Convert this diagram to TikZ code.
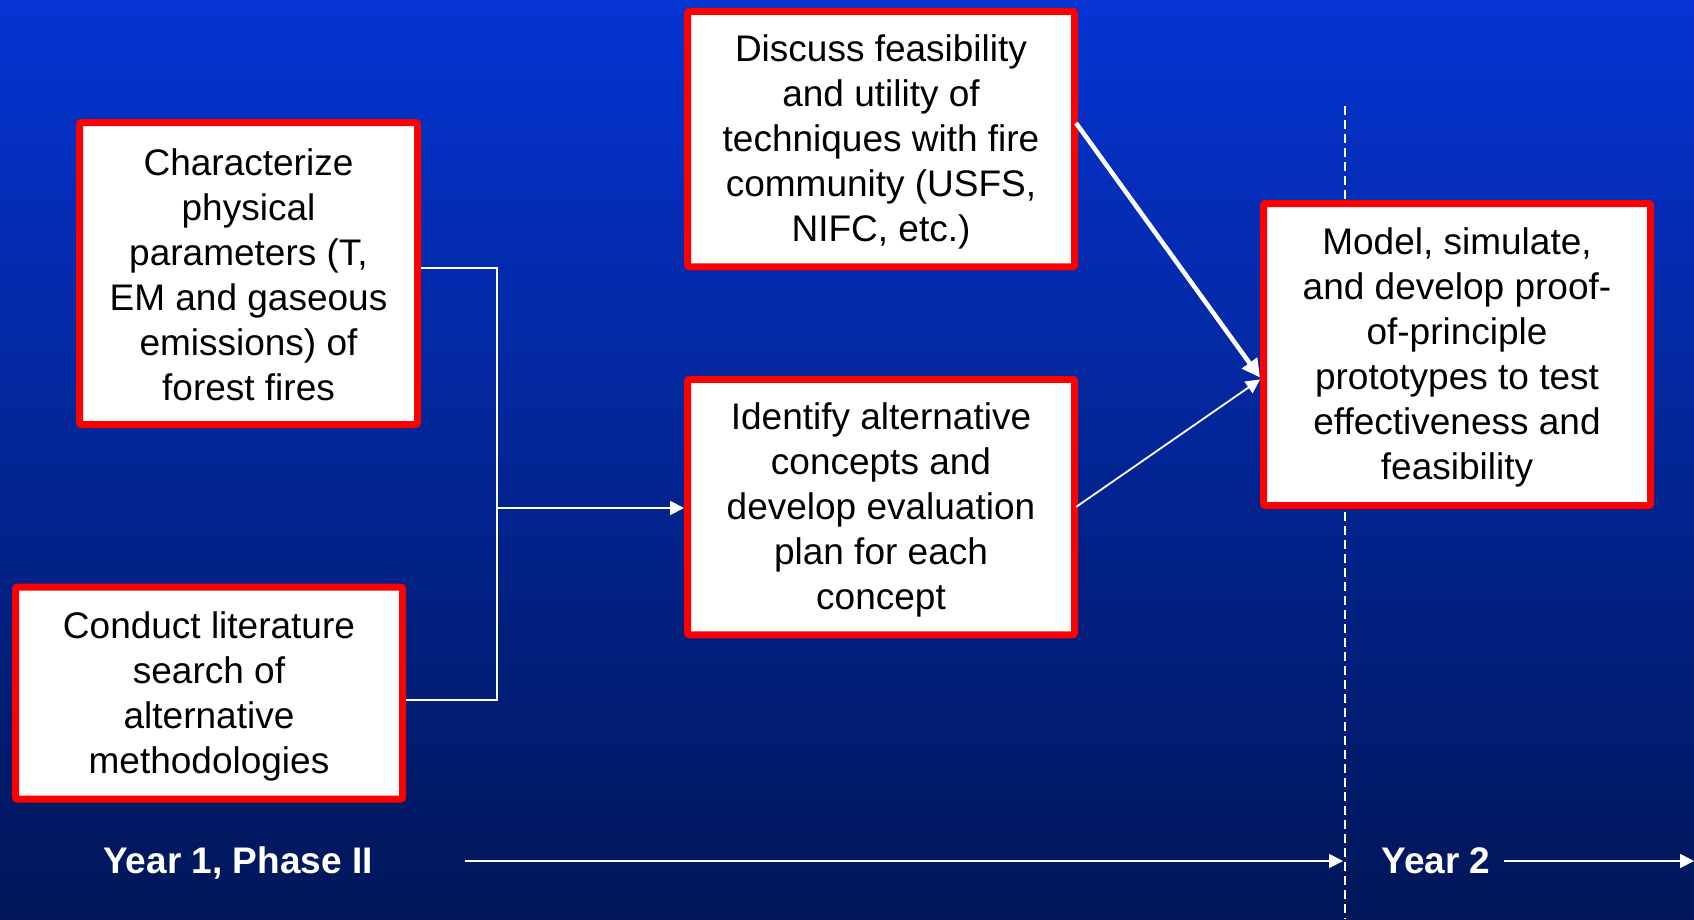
\documentclass[tikz,border=0pt]{standalone}
\usepackage{fontspec}
\setmainfont{Liberation Sans}
\usetikzlibrary{arrows.meta}
\definecolor{bgtop}{RGB}{5,52,210}
\definecolor{bgbot}{RGB}{0,22,88}
\definecolor{boxred}{RGB}{255,0,0}
\begin{document}
\begin{tikzpicture}[x=1pt,y=-1pt,
  box/.style={draw=boxred, line width=7pt, fill=white, rounded corners=2pt, inner sep=0pt},
  txt/.style={align=center, inner sep=0pt, text=black, font=\fontsize{37}{45}\selectfont},
  conn/.style={draw=white, line width=1.8pt},
  thin arrow/.style={conn, -{Triangle[length=14pt,width=14pt]}},
  thick arrow/.style={draw=white, line width=4.5pt, -{Triangle[length=18pt,width=18pt]}},
  yearlabel/.style={text=white, font=\fontsize{37}{44}\selectfont\bfseries, anchor=base, inner sep=0pt}
]
\useasboundingbox (0,0) rectangle (1694,919);
\shade[top color=bgtop, bottom color=bgbot] (0,0) rectangle (1694,919);

% dashed year divider
\coordinate (dtop) at (1345,106);
\coordinate (dbot) at (1345,919);
\draw[white, line width=1.8pt, dash pattern=on 9pt off 5pt] (dtop) -- (dbot);

% boxes
\node[box, minimum width=338pt, minimum height=302pt] (a) at (248.5,273.5) {};
\node[box, minimum width=387pt, minimum height=212pt] (b) at (209,693) {};
\node[box, minimum width=387pt, minimum height=255.5pt] (c) at (881,139) {};
\node[box, minimum width=387pt, minimum height=255.5pt] (d) at (881,507) {};
\node[box, minimum width=387pt, minimum height=302pt] (e) at (1457,354.5) {};

\foreach \n in {a,b,c,d,e}
  \draw[boxred, line width=1.3pt] ([shift={(5.5,5.5)}]\n.north west) rectangle ([shift={(-5.5,-5.5)}]\n.south east);

% box texts
\node[txt] (at) at ([yshift=-1.5pt]a.center)
  {Characterize\\physical\\parameters (T,\\EM and gaseous\\emissions) of\\forest fires};
\node[txt] (bt) at ([yshift=-3pt]b.center)
  {Conduct literature\\search of\\alternative\\methodologies};
\node[txt] (ct) at ([yshift=-3pt]c.center)
  {Discuss feasibility\\and utility of\\techniques with fire\\community (USFS,\\NIFC, etc.)};
\node[txt] (dt) at ([yshift=-3pt]d.center)
  {Identify alternative\\concepts and\\develop evaluation\\plan for each\\concept};
\node[txt] (et) at ([yshift=-3pt]e.center)
  {Model, simulate,\\and develop proof-\\of-principle\\prototypes to test\\effectiveness and\\feasibility};

% connectors
\coordinate (jx) at (497,508);
\draw[conn] ([yshift=5.5pt]a.east) -| (jx) |- ([yshift=-7pt]b.east);
\draw[thin arrow] (jx) -- (d.west |- jx);
\draw[thick arrow] ([shift={(-2pt,16pt)}]c.east) -- ([yshift=-23pt]e.west);
\draw[thin arrow] ([xshift=-2pt]d.east) -- ([yshift=-25pt]e.west);

% timeline
\node[yearlabel] (y1) at (238,873) {Year 1, Phase II};
\node[yearlabel] (y2) at (1436,873) {Year 2};
\coordinate (t1s) at (465,861);
\coordinate (t1e) at (1343,861);
\coordinate (t2s) at (1504,861);
\coordinate (t2e) at (1694,861);
\draw[thin arrow] (t1s) -- (t1e);
\draw[thin arrow] (t2s) -- (t2e);
\end{tikzpicture}
\end{document}
